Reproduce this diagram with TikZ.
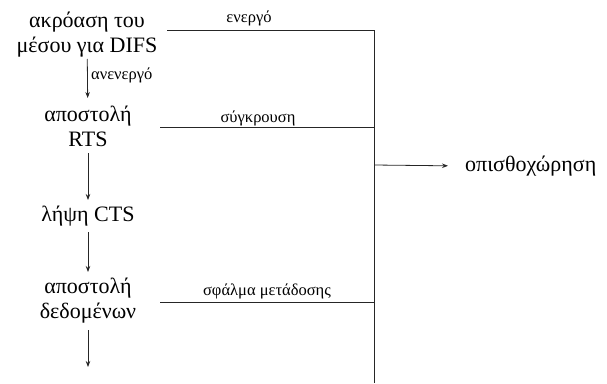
\documentclass[tikz,border=0pt]{standalone}
\usepackage{fontspec}
\setmainfont{Liberation Serif}
\usetikzlibrary{arrows.meta}
\begin{document}
\begin{tikzpicture}[x=1pt,y=-1pt,
  state/.style={align=center,inner sep=0pt,font=\fontsize{22}{25}\selectfont},
  lab/.style={inner sep=0pt,font=\fontsize{16.5}{18}\selectfont},
  conn/.style={line width=0.8pt,draw=black!85},
  arr/.style={conn,-{Stealth[length=6pt,width=4.5pt]}}]
\useasboundingbox (0,0) rectangle (607,383);
% states
\node[state] (listen) at (87,35) {ακρόαση του\\μέσου για DIFS};
\node[state] (rts) at (88,126) {αποστολή\\RTS};
\node[state] (cts) at (88,216) {λήψη CTS};
\node[state] (data) at (88,301) {αποστολή\\δεδομένων};
\node[state,anchor=west] (retreat) at (465,166) {οπισθοχώρηση};
% coordinates
\coordinate (s1) at (167,30);
\coordinate (s2) at (160,127.5);
\coordinate (s3) at (160,302.5);
\coordinate (b1) at (374,30);
\coordinate (b2) at (374,127.5);
\coordinate (b3) at (374,302.5);
\coordinate (bend) at (374,383);
\coordinate (br) at (374,165);
\coordinate (tend) at (88,367);
% vertical arrows
\draw[arr,shorten <=24pt,shorten >=28pt] (listen.center) -- (rts.center);
\draw[arr,shorten <=27pt,shorten >=16pt] (rts.center) -- (cts.center);
\draw[arr,shorten <=16pt,shorten >=29pt] (cts.center) -- (data.center);
\draw[arr,shorten <=29pt] (data.center) -- (tend);
\node[lab,anchor=west] (l0) at (91,75) {ανενεργό};
% bus
\draw[conn] (s1) -- (b1) -- (bend);
\draw[conn] (s2) -- (b2);
\draw[conn] (s3) -- (b3);
\draw[arr,shorten >=17pt] (br) -- (retreat.west);
% labels
\node[lab] (l1) at (249,18) {ενεργό};
\node[lab] (l2) at (258,118) {σύγκρουση};
\node[lab] (l3) at (267,291) {σφάλμα μετάδοσης};
\end{tikzpicture}
\end{document}
